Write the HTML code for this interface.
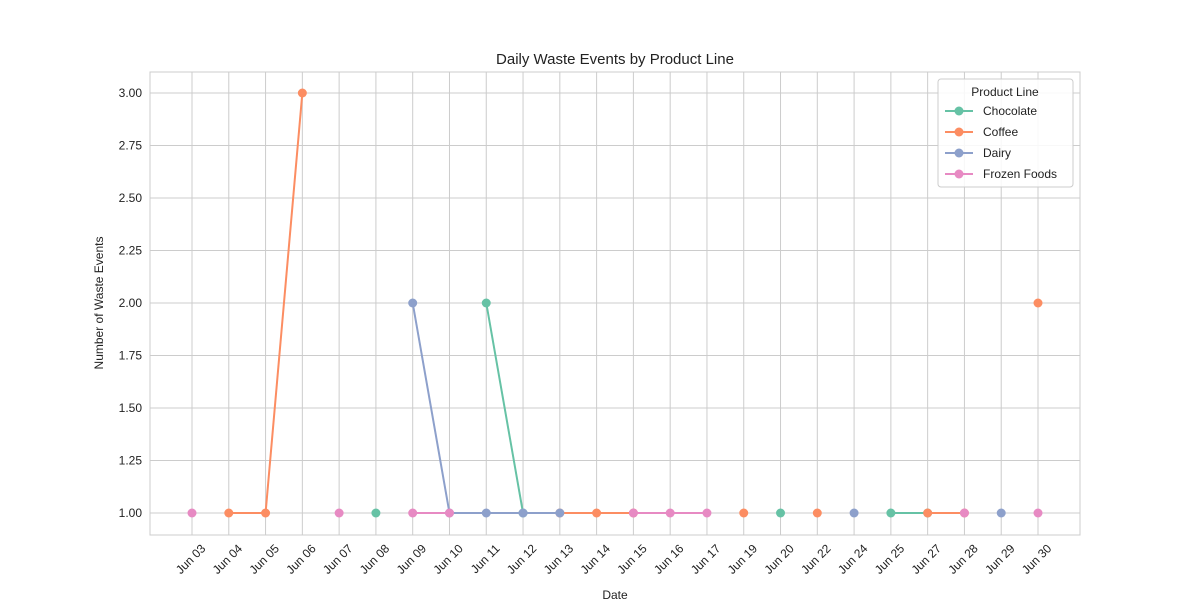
<!DOCTYPE html>
<html><head><meta charset="utf-8"><style>
body{margin:0;background:#fff;}
svg{font-family:"Liberation Sans",Arial,sans-serif;}
</style></head><body>
<svg id="c" width="1200" height="600">
<rect width="1200" height="600" fill="#fff"/>
<text x="615" y="64" font-size="15" text-anchor="middle" fill="#222">Daily Waste Events by Product Line</text>
<text x="615" y="599" font-size="12" text-anchor="middle" fill="#222">Date</text>
<text transform="translate(103,303) rotate(-90)" font-size="12" text-anchor="middle" fill="#222">Number of Waste Events</text>
<g id="grid"></g><g id="series"></g><g id="ticks"></g>
</svg>
<script>
const categories=["Jun 03","Jun 04","Jun 05","Jun 06","Jun 07","Jun 08","Jun 09","Jun 10","Jun 11","Jun 12","Jun 13","Jun 14","Jun 15","Jun 16","Jun 17","Jun 19","Jun 20","Jun 22","Jun 24","Jun 25","Jun 27","Jun 28","Jun 29","Jun 30"];
const seriesNames=["Chocolate","Coffee","Dairy","Frozen Foods"];
const chocolate=[null,null,null,null,null,1,null,null,2,1,null,null,null,null,null,null,1,null,null,1,1,null,null,null];
const coffee=[null,1,1,3,null,null,null,null,null,null,1,1,1,null,null,1,null,1,null,null,1,1,null,2];
const dairy=[null,null,null,null,null,null,2,1,1,1,1,null,null,null,null,null,null,null,1,null,null,null,1,null];
const frozen=[1,null,null,null,1,null,1,1,null,null,null,null,1,1,1,null,null,null,null,null,null,1,null,1];
const yTicks=[1.00,1.25,1.50,1.75,2.00,2.25,2.50,2.75,3.00];
const colors=["#66c2a5","#fc8d62","#8da0cb","#e78ac3"];
const L=150,R=1080,T=72,B=535;
const x=i=>192+i*(1038-192)/(categories.length-1);
const y=v=>513-(v-1)*210;
const NS="http://www.w3.org/2000/svg";
function mk(tag,attrs,parent){const e=document.createElementNS(NS,tag);for(const k in attrs)e.setAttribute(k,attrs[k]);parent.appendChild(e);return e;}
const svg=document.getElementById('c');
const grid=document.getElementById('grid'),ticks=document.getElementById('ticks'),ser=document.getElementById('series');
const bg=mk('rect',{x:L,y:T,width:R-L,height:B-T,fill:'#fff',stroke:'#ccc','stroke-width':1},grid);


categories.forEach((c,i)=>{
 const g=mk('line',{x1:x(i),x2:x(i),y1:T,y2:B,stroke:'#cccccc','stroke-width':1},grid);
 
 
 const t=mk('text',{transform:`translate(${x(i)+8},${B+8}) rotate(-45)`,'font-size':12,'text-anchor':'end',fill:'#222','dominant-baseline':'hanging'},ticks);
 t.textContent=c;
 
 
});
yTicks.forEach(v=>{
 const g=mk('line',{x1:L,x2:R,y1:y(v),y2:y(v),stroke:'#cccccc','stroke-width':1},grid);
 
 
 const t=mk('text',{x:L-8,y:y(v)+4,'font-size':12,'text-anchor':'end',fill:'#222'},ticks);
 t.textContent=v.toFixed(2);
 
 
});
[chocolate,coffee,dairy,frozen].forEach((arr,s)=>{
 const g=mk('g',{},ser);
 
 
 for(let i=0;i<arr.length-1;i++){
  if(arr[i]!=null&&arr[i+1]!=null){
   const l=mk('line',{x1:x(i),y1:y(arr[i]),x2:x(i+1),y2:y(arr[i+1]),stroke:colors[s],'stroke-width':2},g);
   
   
  }
 }
 arr.forEach((v,i)=>{if(v==null)return;
  const p=mk('circle',{cx:x(i),cy:y(v),r:4.5,fill:colors[s]},g);
  
  
 });
});
const lg=mk('g',{},svg);


mk('rect',{x:938,y:79,width:135,height:108,rx:3,fill:'#fff','fill-opacity':0.85,stroke:'#ccc'},lg);
const lt=mk('text',{x:1005,y:96,'font-size':12,'text-anchor':'middle',fill:'#222'},lg);
lt.textContent='Product Line';


seriesNames.forEach((n,i)=>{
 const e=mk('g',{},lg);
 
 
 const yy=111+i*21;
 mk('line',{x1:945,x2:973,y1:yy,y2:yy,stroke:colors[i],'stroke-width':2},e);
 mk('circle',{cx:959,cy:yy,r:4.5,fill:colors[i]},e);
 const t=mk('text',{x:983,y:yy+4,'font-size':12,fill:'#222'},e);
 t.textContent=n;
});
</script>
</body></html>
